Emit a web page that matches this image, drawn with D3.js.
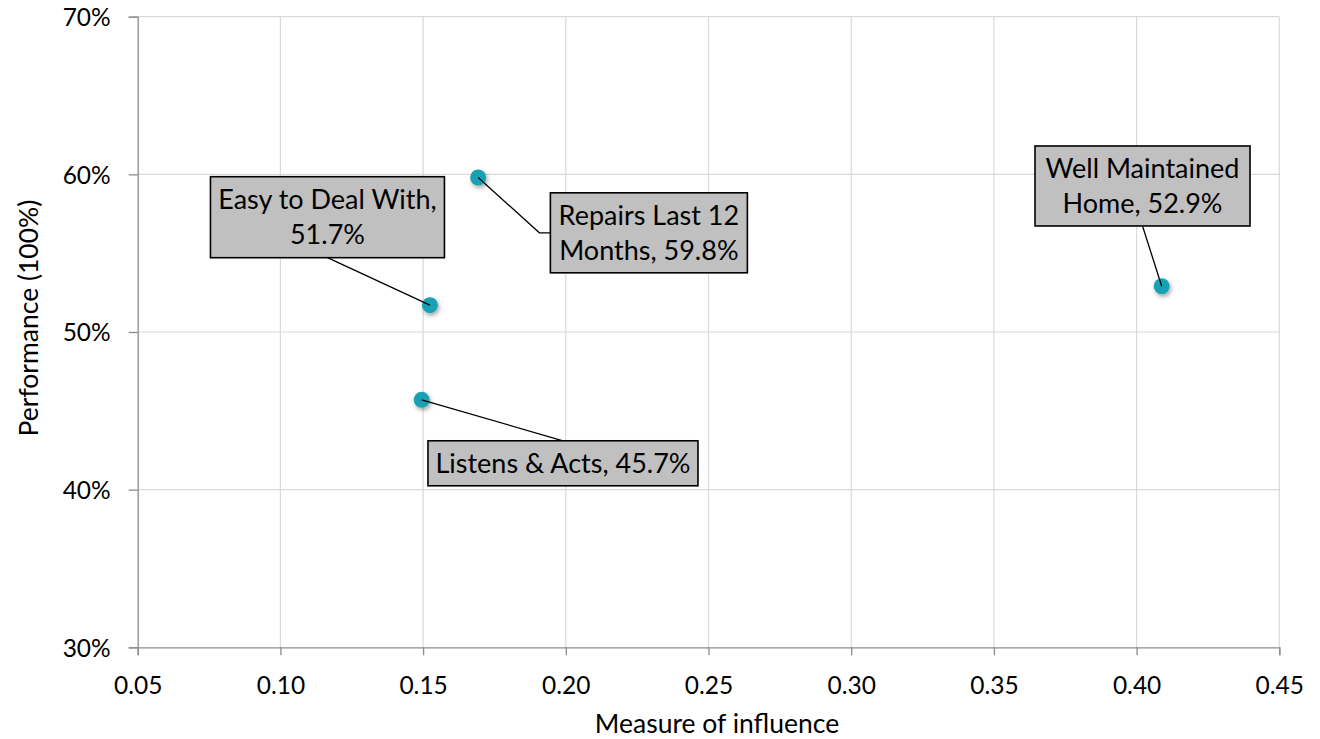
<!DOCTYPE html>
<html>
<head>
<meta charset="utf-8">
<script src="https://cdn.jsdelivr.net/npm/d3@7"></script>
<style>
  html, body { margin: 0; padding: 0; background: #fff; }
  svg { display: block; }
  text { font-family: Lato, "Liberation Sans", sans-serif; fill: #000; }
</style>
</head>
<body>
<svg id="chart" width="1320" height="739"></svg>
<script>
// ---- data ----
const names = ["Easy to Deal With", "Repairs Last 12 Months", "Listens & Acts", "Well Maintained Home"];
const influence = [0.1524, 0.1693, 0.1495, 0.4088];
const performance = [0.517, 0.598, 0.457, 0.529];
const labelLines = [
  ["Easy to Deal With,", "51.7%"],
  ["Repairs Last 12", "Months, 59.8%"],
  ["Listens & Acts, 45.7%"],
  ["Well Maintained", "Home, 52.9%"]
];
const xTicks = [0.05, 0.10, 0.15, 0.20, 0.25, 0.30, 0.35, 0.40, 0.45];
const yTicks = [0.30, 0.40, 0.50, 0.60, 0.70];

// ---- layout ----
const W = 1320, H = 739;
const m = { left: 137.7, right: W - 1279.3, top: 16.7, bottom: H - 647.3 };
// label box placement relative to the point (pixels): dx, dy of box centre, width, height, anchor side
const labelLayout = [
  { dx: -102.5, dy: -88,   w: 234, h: 81, side: "bottom" },
  { dx: 170.7,  dy: 55.3,  w: 197, h: 80, side: "left", elbow: 11 },
  { dx: 141.3,  dy: 63.5,  w: 270, h: 45, side: "top" },
  { dx: -19.2,  dy: -100.3, w: 215, h: 80, side: "bottom" }
];

const svg = d3.select("#chart");
const x = d3.scaleLinear().domain([0.05, 0.45]).range([m.left, W - m.right]);
const y = d3.scaleLinear().domain([0.30, 0.70]).range([H - m.bottom, m.top]);

const defs = svg.append("defs");
const f = defs.append("filter").attr("id", "shadow").attr("x", "-50%").attr("y", "-50%").attr("width", "200%").attr("height", "200%");
f.append("feDropShadow").attr("dx", 1.5).attr("dy", 2.5).attr("stdDeviation", 2).attr("flood-color", "#000").attr("flood-opacity", 0.35);

// gridlines
svg.append("g").selectAll("line").data(xTicks.slice(1)).join("line")
  .attr("x1", d => x(d)).attr("x2", d => x(d))
  .attr("y1", y(0.70)).attr("y2", y(0.30))
  .attr("stroke", "#d9d9d9").attr("stroke-width", 1.2);
svg.append("g").selectAll("line").data(yTicks.slice(1)).join("line")
  .attr("x1", x(0.05)).attr("x2", x(0.45))
  .attr("y1", d => y(d)).attr("y2", d => y(d))
  .attr("stroke", "#d9d9d9").attr("stroke-width", 1.2);

// axes
const xAxis = svg.append("g").attr("transform", `translate(0,${y(0.30)})`)
  .call(d3.axisBottom(x).tickValues(xTicks).tickFormat(d3.format(".2f")).tickSize(8).tickPadding(21));
const yAxis = svg.append("g").attr("transform", `translate(${x(0.05)},0)`)
  .call(d3.axisLeft(y).tickValues(yTicks).tickFormat(d3.format(".0%")).tickSize(9).tickPadding(18));
[xAxis, yAxis].forEach(a => {
  a.select(".domain").attr("stroke", "#8c8c8c").attr("stroke-width", 1.3);
  a.selectAll(".tick line").attr("stroke", "#8c8c8c").attr("stroke-width", 1.3);
  a.selectAll(".tick text").attr("font-family", "Lato, sans-serif").attr("font-size", 24.5).attr("fill", "#000");
});
yAxis.selectAll(".tick text").attr("dy", "0.36em");

// axis titles
svg.append("text").attr("x", 717).attr("y", 733)
  .attr("text-anchor", "middle").attr("font-size", 26.5).text("Measure of influence");
svg.append("text").attr("transform", `translate(38,318) rotate(-90)`)
  .attr("text-anchor", "middle").attr("font-size", 26.5).text("Performance (100%)");

// labels + leaders
const pts = names.map((n, i) => ({ name: n, px: x(influence[i]), py: y(performance[i]), lines: labelLines[i], L: labelLayout[i] }));
const lab = svg.append("g");
pts.forEach(p => {
  const cx = p.px + p.L.dx, cy = p.py + p.L.dy;
  const bx = cx - p.L.w / 2, by = cy - p.L.h / 2;
  let path;
  if (p.L.side === "bottom") path = [[p.px, p.py], [cx, by + p.L.h]];
  else if (p.L.side === "top") path = [[p.px, p.py], [cx, by]];
  else path = [[p.px, p.py], [bx - p.L.elbow, cy], [bx, cy]];
  lab.append("path").attr("d", d3.line()(path)).attr("fill", "none").attr("stroke", "#000").attr("stroke-width", 1.3);
  lab.append("rect").attr("x", bx).attr("y", by).attr("width", p.L.w).attr("height", p.L.h)
    .attr("fill", "#c0c0c0").attr("stroke", "#000").attr("stroke-width", 1.6);
  const lh = 35;
  const n = p.lines.length;
  p.lines.forEach((t, k) => {
    lab.append("text").attr("x", cx).attr("y", cy + (k - (n - 1) / 2) * lh)
      .attr("dy", "0.36em").attr("text-anchor", "middle").attr("font-size", 27).text(t);
  });
});

// markers
svg.append("g").selectAll("circle").data(pts).join("circle")
  .attr("cx", d => d.px).attr("cy", d => d.py).attr("r", 8)
  .attr("fill", "#17a2b4").attr("filter", "url(#shadow)");
// leader ends drawn over marker centre
pts.forEach(p => {
  const cx = p.px + p.L.dx, cy = p.py + p.L.dy;
  const bx = cx - p.L.w / 2, by = cy - p.L.h / 2;
  let end = p.L.side === "bottom" ? [cx, by + p.L.h] : p.L.side === "top" ? [cx, by] : [bx - p.L.elbow, cy];
  const dx = end[0] - p.px, dy = end[1] - p.py, len = Math.hypot(dx, dy);
  svg.append("line").attr("x1", p.px).attr("y1", p.py)
    .attr("x2", p.px + dx / len * 8).attr("y2", p.py + dy / len * 8)
    .attr("stroke", "#000").attr("stroke-width", 1.3);
});
</script>
</body>
</html>
